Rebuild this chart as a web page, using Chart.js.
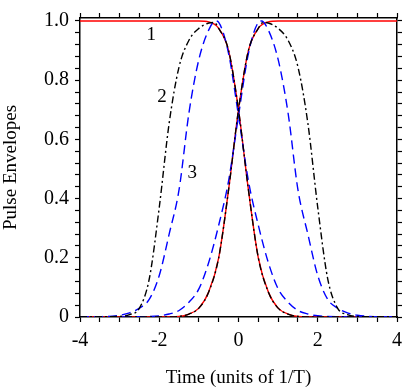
<!DOCTYPE html>
<html>
<head>
<meta charset="utf-8">
<script src="https://cdn.jsdelivr.net/npm/chart.js@4.4.1/dist/chart.umd.min.js"></script>
<style>
  html, body { margin: 0; padding: 0; background: #fff; }
  canvas { display: block; }
</style>
</head>
<body>
<canvas id="pulseChart" width="409" height="391"></canvas>
<script>
// Pulse envelopes: 1 = red solid, 2 = black dash-dot, 3 = blue dashed
const xTitle = 'Time (units of 1/T)';
const yTitle = 'Pulse Envelopes';

// curve 1 (red)
const red1X = [-4, -1.0, -0.75, -0.5, -0.25, 0, 0.25, 0.5, 0.75, 1.0, 1.25, 1.5, 2.0, 4];
const red1Y = [1, 1, 0.997, 0.975, 0.90, 0.70, 0.43, 0.20, 0.085, 0.03, 0.01, 0.002, 0, 0];
const red2X = [-4, -2.0, -1.5, -1.25, -1.0, -0.75, -0.5, -0.25, 0, 0.25, 0.5, 0.75, 1.0, 4];
const red2Y = [0, 0, 0.002, 0.01, 0.03, 0.085, 0.20, 0.43, 0.70, 0.90, 0.975, 0.997, 1, 1];

// curve 2 (black dash-dot)
const blk1X = [-4, -3.0, -2.75, -2.5, -2.25, -2.0, -1.75, -1.5, -1.25, -1.0, -0.75, -0.62, -0.5, -0.25, 0, 0.25, 0.5, 0.75, 1.0, 1.25, 1.5, 2.0, 4];
const blk1Y = [0, 0.002, 0.008, 0.03, 0.13, 0.37, 0.655, 0.845, 0.935, 0.975, 0.993, 0.995, 0.975, 0.90, 0.70, 0.43, 0.20, 0.085, 0.03, 0.01, 0.002, 0, 0];
const blk2X = [-4, -2.0, -1.5, -1.25, -1.0, -0.75, -0.5, -0.25, 0, 0.25, 0.5, 0.62, 0.75, 1.0, 1.25, 1.5, 1.75, 2.0, 2.25, 2.5, 2.75, 3.0, 4];
const blk2Y = [0, 0, 0.002, 0.01, 0.03, 0.085, 0.20, 0.43, 0.70, 0.90, 0.975, 0.995, 0.993, 0.975, 0.935, 0.845, 0.655, 0.37, 0.13, 0.03, 0.008, 0.002, 0];

// curve 3 (blue dashed)
const blu1X = [-4, -3.5, -3.0, -2.75, -2.5, -2.25, -2.0, -1.75, -1.5, -1.25, -1.0, -0.75, -0.58, -0.5, -0.25, 0, 0.25, 0.5, 0.75, 1.0, 1.25, 1.5, 1.75, 2.0, 2.5, 4];
const blu1Y = [0, 0.001, 0.006, 0.014, 0.03, 0.06, 0.14, 0.28, 0.43, 0.69, 0.87, 0.97, 1.0, 0.995, 0.89, 0.68, 0.46, 0.31, 0.185, 0.095, 0.05, 0.022, 0.01, 0.004, 0.001, 0];
const blu2X = [-4, -2.5, -2.0, -1.75, -1.5, -1.25, -1.0, -0.75, -0.5, -0.25, 0, 0.25, 0.5, 0.58, 0.75, 1.0, 1.25, 1.5, 1.75, 2.0, 2.25, 2.5, 2.75, 3.0, 3.5, 4];
const blu2Y = [0, 0.001, 0.004, 0.01, 0.022, 0.05, 0.095, 0.185, 0.31, 0.46, 0.68, 0.89, 0.995, 1.0, 0.97, 0.87, 0.69, 0.43, 0.28, 0.14, 0.06, 0.03, 0.014, 0.006, 0.001, 0];

// curve labels: text, x, y (data units)
const curveLabels = [['1', -2.2, 0.954], ['2', -1.93, 0.742], ['3', -1.17, 0.486]];

const serif = '"Liberation Serif", "Times New Roman", serif';
const pts = (xs, ys) => xs.map((x, i) => ({ x, y: ys[i] }));

const line = (xs, ys, color, dash, order) => ({
    data: pts(xs, ys),
    borderColor: color,
    borderWidth: 1.4,
    borderDash: dash,
    pointRadius: 0,
    fill: false,
    cubicInterpolationMode: 'monotone',
    order,
});

const xTicks = [];
for (let v = -4; v <= 4.0001; v += 0.5) xTicks.push(Math.round(v * 100) / 100);
const yTicks = [];
for (let i = 0; i <= 25; i++) yTicks.push(Math.round(i * 4) / 100);

const setTicks = list => s => { s.ticks = list.map(v => ({ value: v })); };
const tickGrid = { drawOnChartArea: false, drawTicks: true, tickLength: 5, color: '#000', tickWidth: 1.2 };
const frame = { display: true, color: '#000', width: 1.5 };

const labelPlugin = {
    id: 'curveLabels',
    afterDatasetsDraw(chart) {
        const { ctx, scales: { x, y } } = chart;
        ctx.save();
        ctx.fillStyle = '#000';
        ctx.font = '19px ' + serif;
        ctx.textAlign = 'center';
        ctx.textBaseline = 'middle';
        curveLabels.forEach(([t, lx, ly]) => ctx.fillText(t, x.getPixelForValue(lx), y.getPixelForValue(ly)));
        ctx.restore();
    }
};

new Chart(document.getElementById('pulseChart'), {
    type: 'line',
    data: {
        datasets: [
            line(red1X, red1Y, '#ff0000', [], 3),
            line(red2X, red2Y, '#ff0000', [], 3),
            line(blu1X, blu1Y, '#0000ff', [9, 5], 2),
            line(blu2X, blu2Y, '#0000ff', [9, 5], 2),
            line(blk1X, blk1Y, '#000000', [7, 3, 2, 3], 1),
            line(blk2X, blk2Y, '#000000', [7, 3, 2, 3], 1),
        ]
    },
    options: {
        responsive: false,
        animation: false,
        devicePixelRatio: 1,
        layout: { padding: 0 },
        plugins: { legend: { display: false }, tooltip: { enabled: false } },
        scales: {
            x: {
                type: 'linear', position: 'bottom', min: -4, max: 4,
                afterBuildTicks: setTicks(xTicks),
                afterFit: s => { s.height = 74; },
                grid: tickGrid, border: frame,
                ticks: {
                    autoSkip: false, maxRotation: 0, padding: 7, color: '#000',
                    font: { family: serif, size: 20 },
                    callback: v => (Math.abs(v % 2) < 1e-6 ? String(v) : '')
                },
                title: { display: true, text: xTitle, color: '#000', font: { family: serif, size: 19 }, padding: { top: 0, bottom: 2 } }
            },
            x2: {
                type: 'linear', position: 'top', min: -4, max: 4,
                afterBuildTicks: setTicks(xTicks),
                afterFit: s => { s.height = 8; },
                grid: tickGrid, border: frame,
                ticks: { display: false }
            },
            y: {
                type: 'linear', position: 'left', min: 0, max: 1.01,
                afterBuildTicks: setTicks(yTicks),
                afterFit: s => { s.width = 80; },
                grid: tickGrid, border: frame,
                ticks: {
                    autoSkip: false, padding: 6, color: '#000',
                    font: { family: serif, size: 20 },
                    callback: v => {
                        const k = Math.round(v * 100);
                        if (k % 20 !== 0) return '';
                        return k === 0 ? '0' : (k / 100).toFixed(1);
                    }
                },
                title: { display: true, text: yTitle, color: '#000', font: { family: serif, size: 19 }, padding: { top: 0, bottom: 0 } }
            },
            y2: {
                type: 'linear', position: 'right', min: 0, max: 1.01,
                afterBuildTicks: setTicks(yTicks),
                afterFit: s => { s.width = 9; },
                grid: tickGrid, border: frame,
                ticks: { display: false }
            }
        }
    },
    plugins: [labelPlugin]
});
</script>
</body>
</html>
